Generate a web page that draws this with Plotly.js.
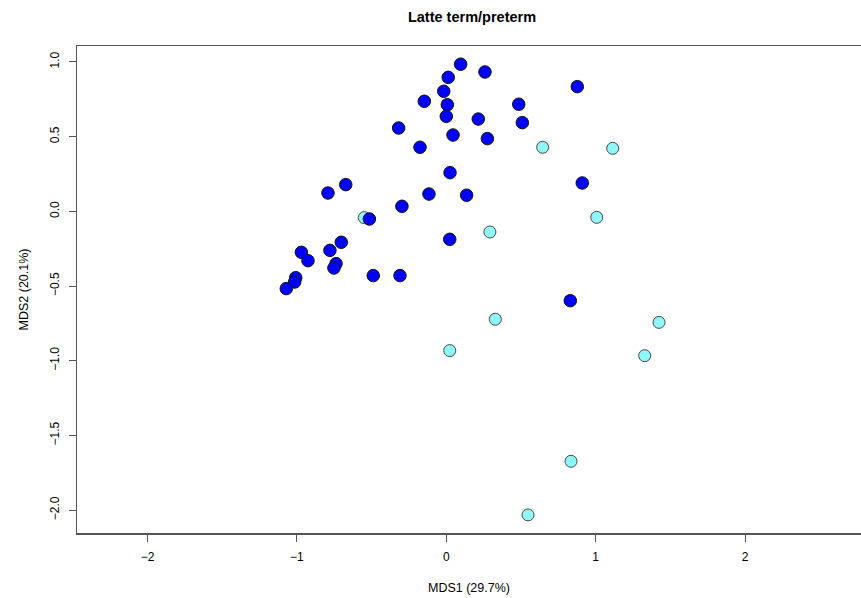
<!DOCTYPE html>
<html>
<head>
<meta charset="utf-8">
<script src="https://cdn.plot.ly/plotly-3.0.1.min.js"></script>
<style>html,body{margin:0;padding:0;overflow:hidden;background:#fff;}</style>
</head>
<body>
<div id="chart" style="width:861px;height:598px;"></div>
<script>
// Term samples (blue)
const termX = [0.096, 0.259, 0.013, -0.017, 0.877, -0.147, 0.007, 0.485, 0.000, 0.214, 0.509, -0.319, 0.045, 0.275, -0.176, 0.025, 0.910, -0.673, -0.792, -0.116, 0.136, -0.297, -0.515, 0.023, -0.703, -0.779, -0.970, -0.926, -0.738, -0.752, -0.489, -0.310, -1.008, -1.015, -1.071, 0.830];
const termY = [0.985, 0.933, 0.897, 0.804, 0.835, 0.737, 0.714, 0.717, 0.636, 0.618, 0.594, 0.558, 0.511, 0.487, 0.429, 0.259, 0.190, 0.179, 0.123, 0.116, 0.108, 0.034, -0.051, -0.187, -0.207, -0.261, -0.274, -0.330, -0.350, -0.379, -0.430, -0.430, -0.444, -0.473, -0.517, -0.598];
// Preterm samples (cyan)
const pretermX = [0.645, 1.114, 1.007, -0.549, 0.292, 0.328, 0.023, 1.424, 1.328, 0.835, 0.547];
const pretermY = [0.429, 0.422, -0.040, -0.042, -0.138, -0.722, -0.932, -0.743, -0.966, -1.673, -2.032];

const xTickVals = [-2, -1, 0, 1, 2];
const xTickText = ["\u22122", "\u22121", "0", "1", "2"];
const yTickVals = [-2.0, -1.5, -1.0, -0.5, 0.0, 0.5, 1.0];
const yTickText = ["\u22122.0", "\u22121.5", "\u22121.0", "\u22120.5", "0.0", "0.5", "1.0"];

const FONT = "'Liberation Sans', Arial, Helvetica, sans-serif";

const traces = [
  {
    x: pretermX, y: pretermY, type: 'scatter', mode: 'markers', name: 'preterm',
    marker: {size: 12, color: '#8ff7f7', line: {color: '#4a4a4a', width: 1}}
  },
  {
    x: termX, y: termY, type: 'scatter', mode: 'markers', name: 'term',
    marker: {size: 12.5, color: '#0000ff', line: {color: '#111111', width: 1}}
  }
];

const layout = {
  width: 861, height: 598,
  margin: {l: 77, r: 0, t: 46, b: 65, pad: 0},
  paper_bgcolor: '#ffffff', plot_bgcolor: '#ffffff',
  showlegend: false,
  font: {family: FONT, size: 12, color: '#000'},
  title: {
    text: '<b>Latte term/preterm</b>',
    font: {family: FONT, size: 14.5, color: '#000'},
    xref: 'container', x: 472/861, xanchor: 'center',
    yref: 'container', y: 1 - 17/598, yanchor: 'middle'
  },
  xaxis: {
    range: [-2.472, 2.776],
    tickmode: 'array', tickvals: xTickVals, ticktext: xTickText,
    ticks: 'outside', ticklen: 7, tickwidth: 1, tickcolor: '#555',
    ticklabelstandoff: 5,
    showline: true, linecolor: '#555', linewidth: 1.5, mirror: true,
    showgrid: false, zeroline: false,
    tickfont: {family: FONT, size: 12, color: '#000'},
    title: {text: 'MDS1 (29.7%)', font: {family: FONT, size: 12.5, color: '#000'}, standoff: 20}
  },
  yaxis: {
    range: [-2.153, 1.107],
    tickmode: 'array', tickvals: yTickVals, ticktext: yTickText,
    tickangle: -90,
    ticks: 'outside', ticklen: 7, tickwidth: 1, tickcolor: '#555',
    ticklabelstandoff: 5,
    showline: true, linecolor: '#555', linewidth: 1.5, mirror: false,
    showgrid: false, zeroline: false,
    tickfont: {family: FONT, size: 12, color: '#000'},
    title: {text: 'MDS2 (20.1%)', font: {family: FONT, size: 12.5, color: '#000'}, standoff: 16}
  }
};

Plotly.newPlot('chart', traces, layout, {displayModeBar: false, staticPlot: true});
</script>
</body>
</html>
